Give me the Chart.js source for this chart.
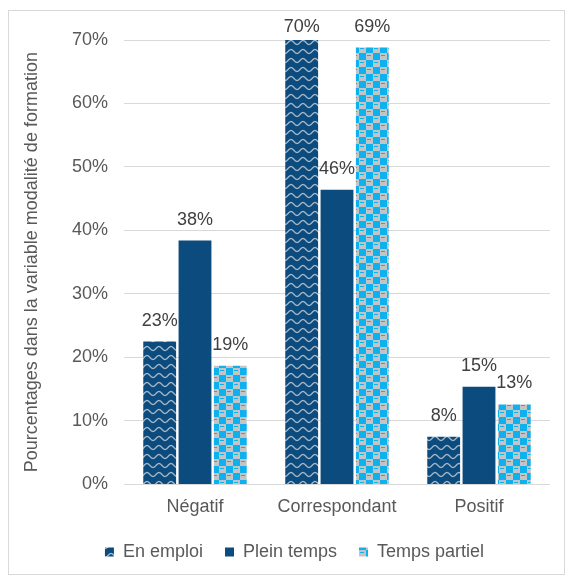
<!DOCTYPE html>
<html>
<head>
<meta charset="utf-8">
<script src="https://cdn.jsdelivr.net/npm/chart.js@4/dist/chart.umd.min.js"></script>
<style>
  body { margin: 0; background: #fff; }
  #frame { position: absolute; left: 8px; top: 10px; width: 555px; height: 563px; border: 1px solid #d9d9d9; }
</style>
</head>
<body>
<div id="frame"><canvas id="chart" width="555" height="563"></canvas></div>
<script>
// Categories and series (percent)
const categories = ['Négatif', 'Correspondant', 'Positif'];
const enEmploi = [22.5, 70.0, 7.5];
const pleinTemps = [38.4, 46.4, 15.4];
const tempsPartiel = [18.7, 68.8, 12.6];
const yTicks = [0, 10, 20, 30, 40, 50, 60, 70];

const FONT = { family: '"Liberation Sans", Arial, sans-serif', size: 18 };

// Dark blue with light wavy lines
function wavePattern() {
    const c = document.createElement('canvas');
    c.width = 12; c.height = 9;
    const g = c.getContext('2d');
    g.fillStyle = '#0b4b7d';
    g.fillRect(0, 0, 12, 9);
    g.strokeStyle = '#a9b9c9';
    g.lineWidth = 1.3;
    g.beginPath();
    for (let x = 0; x <= 12; x += 0.5) {
        const y = 4.5 + 2 * Math.cos(x / 12 * 2 * Math.PI);
        if (x === 0) g.moveTo(x, y); else g.lineTo(x, y);
    }
    g.stroke();
    return g.createPattern(c, 'repeat');
}

// Grey background with cyan checker squares
function checkerPattern() {
    const c = document.createElement('canvas');
    c.width = 14; c.height = 14;
    const g = c.getContext('2d');
    g.fillStyle = '#c4c4c4';
    g.fillRect(0, 0, 14, 14);
    g.fillStyle = '#0fb0ee';
    g.fillRect(0, 0, 7, 7);
    g.fillRect(7, 7, 7, 7);
    g.fillRect(8, 2, 4, 1);
    g.fillRect(1, 9, 4, 1);
    return g.createPattern(c, 'repeat');
}

// Value labels above each bar, kept below the top edge
const valueLabels = {
    id: 'valueLabels',
    afterDatasetsDraw(chart) {
        const ctx = chart.ctx;
        const minY = chart.chartArea.top - 13;
        ctx.save();
        ctx.font = FONT.size + 'px ' + FONT.family;
        ctx.fillStyle = '#404040';
        ctx.textAlign = 'center';
        ctx.textBaseline = 'middle';
        chart.data.datasets.forEach((ds, i) => {
            chart.getDatasetMeta(i).data.forEach((bar, j) => {
                ctx.fillText(Math.round(ds.data[j]) + '%', bar.x, Math.max(bar.y - 21, minY));
            });
        });
        ctx.restore();
    }
};

// Legend takes less room in the layout, then is placed below the axis labels
const legendPlacement = {
    id: 'legendPlacement',
    beforeInit(chart) {
        const fit = chart.legend.fit;
        chart.legend.fit = function () {
            fit.call(this);
            this.height -= 12;
        };
    },
    afterLayout(chart) {
        const lg = chart.legend;
        lg.top -= 1;
        lg.bottom = lg.top + 80;
        lg.height = 80;
        lg.left += 15; lg.right += 15;
    }
};

new Chart(document.getElementById('chart'), {
    type: 'bar',
    data: {
        labels: categories,
        datasets: [
            { label: 'En emploi', data: enEmploi, backgroundColor: wavePattern() },
            { label: 'Plein temps', data: pleinTemps, backgroundColor: '#0b4b7d' },
            { label: 'Temps partiel', data: tempsPartiel, backgroundColor: checkerPattern() }
        ]
    },
    options: {
        responsive: false,
        animation: false,
        categoryPercentage: 0.746,
        barPercentage: 0.93,
        layout: { padding: { top: 29, right: 14, bottom: 14, left: 0 } },
        plugins: {
            legend: {
                position: 'bottom',
                labels: {
                    font: FONT, color: '#595959',
                    boxWidth: 9, boxHeight: 9, padding: 22
                }
            },
            tooltip: { enabled: false }
        },
        scales: {
            x: {
                grid: { display: false },
                border: { display: false },
                ticks: { font: FONT, color: '#595959', padding: 4 }
            },
            y: {
                min: 0, max: 70,
                afterBuildTicks: s => { s.ticks = yTicks.map(v => ({ value: v })); },
                afterFit: s => { s.width = 115; },
                grid: { color: '#d9d9d9', drawTicks: false },
                border: { display: false },
                ticks: { font: FONT, color: '#595959', padding: 16, callback: v => v + '%' },
                title: {
                    display: true,
                    text: 'Pourcentages dans la variable modalité de formation',
                    font: FONT, color: '#595959', padding: { top: 12, bottom: 0 }
                }
            }
        }
    },
    plugins: [valueLabels, legendPlacement]
});
</script>
</body>
</html>
